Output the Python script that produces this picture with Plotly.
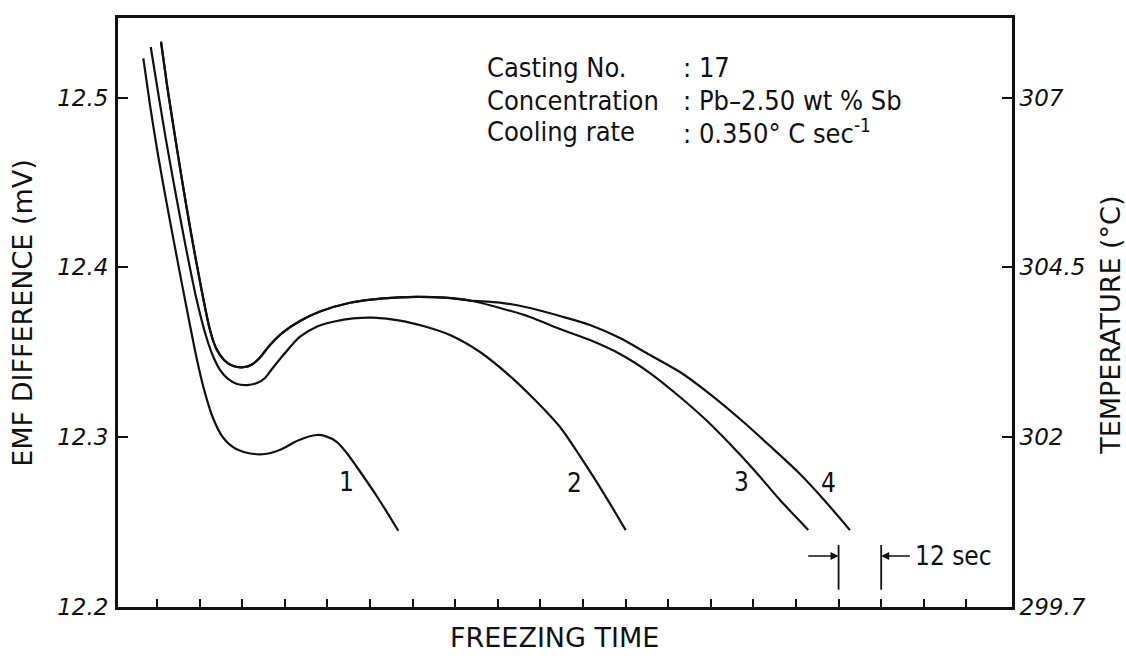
import plotly.graph_objects as go

# ---------------- data (freezing time in s, EMF difference in mV) ----------------
c1_t = [-3.86, -1.97, 0.28, 2.82, 5.63, 8.45, 11.27, 13.52, 15.77, 18.31, 21.41, 25.63,
        30.42, 35.21, 39.72, 44.99, 47.61, 50.62, 53.24, 56.25, 62.25, 67.97]
c1_v = [12.5231, 12.4956, 12.4662, 12.4367, 12.4055, 12.3749, 12.3455, 12.3260, 12.3113,
        12.3007, 12.2942, 12.2907, 12.2901, 12.2931, 12.2981, 12.3013, 12.3005, 12.2973,
        12.2913, 12.2826, 12.2642, 12.2449]

c2_t = [-1.77, 0.28, 2.54, 5.07, 7.89, 10.99, 13.80, 15.77, 17.75, 20.00, 22.54, 25.35,
        28.17, 30.42, 32.39, 35.58, 40.28, 44.99, 49.66, 55.30, 60.93, 68.45, 75.49, 82.54,
        90.99, 99.44, 106.48, 113.52, 119.15, 124.23, 128.17, 132.03]
c2_v = [12.5298, 12.5033, 12.4750, 12.4456, 12.4144, 12.3826, 12.3596, 12.3478, 12.3396,
        12.3343, 12.3313, 12.3307, 12.3319, 12.3349, 12.3402, 12.3484, 12.3592, 12.3651,
        12.3680, 12.3700, 12.3704, 12.3687, 12.3652, 12.3602, 12.3502, 12.3360, 12.3219,
        12.3060, 12.2889, 12.2724, 12.2589, 12.2453]

# common early part of curves 3 and 4
c34_t = [1.13, 2.82, 4.79, 7.04, 9.58, 12.39, 14.93, 16.62, 18.87, 21.49, 24.31, 26.76,
         29.01, 31.83, 35.49, 40.28, 45.92, 54.37, 63.75, 73.15, 81.13, 88.17]
c34_v = [12.5329, 12.5074, 12.4809, 12.4515, 12.4203, 12.3885, 12.3631, 12.3525, 12.3455,
         12.3419, 12.3412, 12.3428, 12.3470, 12.3543, 12.3617, 12.3684, 12.3740, 12.3792,
         12.3818, 12.3827, 12.3822, 12.3805]

c3_t = [96.62, 105.07, 113.52, 121.97, 130.42, 138.87, 147.32, 154.37, 161.41, 168.45,
        175.49, 179.72, 183.46]
c3_v = [12.3761, 12.3708, 12.3637, 12.3572, 12.3490, 12.3378, 12.3237, 12.3107, 12.2960,
        12.2801, 12.2630, 12.2536, 12.2453]

c4_t = [96.62, 105.07, 113.52, 121.97, 130.42, 138.87, 147.32, 155.77, 164.23, 172.68,
        181.13, 188.17, 195.21]
c4_v = [12.3793, 12.3761, 12.3714, 12.3661, 12.3584, 12.3484, 12.3384, 12.3254, 12.3107,
        12.2948, 12.2783, 12.2624, 12.2453]

curve_labels = ["1", "2", "3", "4"]
label_t = [53.4, 117.7, 164.7, 189.1]
label_v = [12.2736, 12.2730, 12.2736, 12.2730]

emf_ticks = [12.5, 12.4, 12.3, 12.2]
emf_ticktext = ["12.5", "12.4", "12.3", "12.2"]
temp_ticktext = ["307", "304.5", "302", "299.7"]
time_ticks = [12 * k for k in range(20)]

info_labels = ["Casting No.", "Concentration", "Cooling rate"]
info_values = [": 17", ": Pb\u20132.50 wt % Sb", ": 0.350\u00b0 C sec<sup>-1</sup>"]
info_v = [12.518, 12.4986, 12.4803]

marker_t0 = 192      # start of the 12 s scale marker
marker_len = 12      # seconds
marker_v = 12.230

X_RANGE = [-10.99, 240.85]
Y_RANGE = [12.2, 12.5469]

# ---------------- figure ----------------
TXT_FONT = "DejaVu Sans Condensed, DejaVu Sans, sans-serif"
LINE = dict(color="#111111", width=2.2, shape="spline", smoothing=0.8)

fig = go.Figure()
fig.add_trace(go.Scatter(x=c1_t, y=c1_v, mode="lines", line=LINE, hoverinfo="skip"))
fig.add_trace(go.Scatter(x=c2_t, y=c2_v, mode="lines", line=LINE, hoverinfo="skip"))
fig.add_trace(go.Scatter(x=c34_t + c3_t, y=c34_v + c3_v, mode="lines", line=LINE, hoverinfo="skip"))
fig.add_trace(go.Scatter(x=c34_t + c4_t, y=c34_v + c4_v, mode="lines", line=LINE, hoverinfo="skip"))
# empty trace to activate the right (temperature) axis
fig.add_trace(go.Scatter(x=[], y=[], yaxis="y2", hoverinfo="skip"))

annotations = []
for txt, t, v in zip(curve_labels, label_t, label_v):
    annotations.append(dict(x=t, y=v, xref="x", yref="y", text=txt, showarrow=False,
                            font=dict(family=TXT_FONT, size=26, color="#111")))
for lab, val, v in zip(info_labels, info_values, info_v):
    annotations.append(dict(x=92.4, y=v, xref="x", yref="y", text=lab, showarrow=False,
                            xanchor="left", yanchor="middle",
                            font=dict(family=TXT_FONT, size=27, color="#111")))
    annotations.append(dict(x=147.6, y=v, xref="x", yref="y", text=val, showarrow=False,
                            xanchor="left", yanchor="middle",
                            font=dict(family=TXT_FONT, size=27, color="#111")))

# 12 s scale marker arrows and text
annotations.append(dict(x=marker_t0, y=marker_v, ax=marker_t0 - 9, ay=marker_v,
                        xref="x", yref="y", axref="x", ayref="y", text="", showarrow=True,
                        arrowhead=2, arrowsize=1, arrowwidth=1.6, arrowcolor="#111"))
annotations.append(dict(x=marker_t0 + marker_len, y=marker_v, ax=marker_t0 + marker_len + 8.5,
                        ay=marker_v, xref="x", yref="y", axref="x", ayref="y", text="",
                        showarrow=True, arrowhead=2, arrowsize=1, arrowwidth=1.6, arrowcolor="#111"))
annotations.append(dict(x=marker_t0 + marker_len + 9.0, y=marker_v, xref="x", yref="y",
                        text=f"{marker_len} sec", showarrow=False, xanchor="left", yanchor="middle",
                        font=dict(family=TXT_FONT, size=26, color="#111")))

# axis titles
TITLE_FONT = dict(family="DejaVu Sans, sans-serif", size=27, color="#111")
annotations.append(dict(x=-0.107, y=0.50, xref="paper", yref="paper", text="EMF DIFFERENCE (mV)",
                        textangle=-90, showarrow=False, xanchor="center", yanchor="middle",
                        font=TITLE_FONT))
annotations.append(dict(x=1.110, y=0.478, xref="paper", yref="paper", text="TEMPERATURE (\u00b0C)",
                        textangle=-90, showarrow=False, xanchor="center", yanchor="middle",
                        font=TITLE_FONT))
annotations.append(dict(x=0.488, y=-0.051, xref="paper", yref="paper", text="FREEZING TIME",
                        showarrow=False, xanchor="center", yanchor="middle", font=TITLE_FONT))

shapes = []
for t in (marker_t0, marker_t0 + marker_len):
    shapes.append(dict(type="line", xref="x", yref="y", x0=t, x1=t, y0=12.2102, y1=12.2365,
                       line=dict(color="#111", width=1.8)))

TICK_FONT = dict(family="DejaVu Sans, sans-serif", size=23, color="#111", style="italic")

fig.update_layout(
    width=1126, height=662,
    margin=dict(l=118, r=114, t=18, b=55),
    paper_bgcolor="white", plot_bgcolor="white",
    showlegend=False,
    annotations=annotations,
    shapes=shapes,
    xaxis=dict(range=X_RANGE, tickvals=time_ticks, ticktext=[""] * len(time_ticks),
               ticks="inside", ticklen=8, tickwidth=1.8, tickcolor="#111",
               showgrid=False, zeroline=False, showline=True, linewidth=3, linecolor="#111",
               mirror=True),
    yaxis=dict(range=Y_RANGE, tickvals=emf_ticks, ticktext=emf_ticktext,
               ticks="inside", ticklen=10, tickwidth=1.8, tickcolor="#111",
               tickfont=TICK_FONT, ticklabelstandoff=2,
               showgrid=False, zeroline=False, showline=True, linewidth=3, linecolor="#111",
               mirror=True),
    yaxis2=dict(range=Y_RANGE, overlaying="y", side="right", tickvals=emf_ticks,
                ticktext=temp_ticktext, ticks="inside", ticklen=10, tickwidth=1.8, tickcolor="#111",
                tickfont=TICK_FONT, showgrid=False, zeroline=False, showline=True,
                linewidth=3, linecolor="#111"),
)

fig.write_html("out.html")
